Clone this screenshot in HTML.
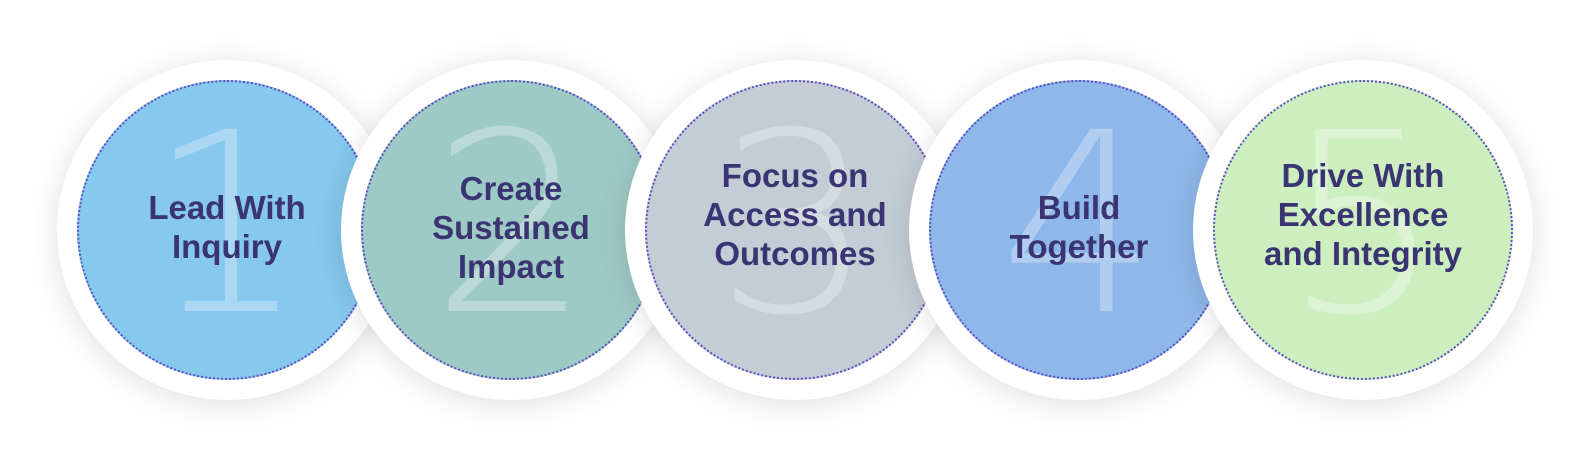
<!DOCTYPE html>
<html><head><meta charset="utf-8"><style>
body{margin:0;width:1595px;height:460px;background:#fff;position:relative;overflow:hidden;font-family:"Liberation Sans",sans-serif;}
.g{position:absolute;top:0;left:0;}
.o{position:absolute;width:340px;height:340px;border-radius:50%;background:#fff;box-shadow:0 4px 30px rgba(0,0,0,0.13);}
.i{position:absolute;width:300px;height:300px;border-radius:50%;border:2px dotted #5b4fc4;box-sizing:border-box;overflow:hidden;}
.n{position:absolute;left:0;width:100%;text-align:center;top:18px;font-family:"DejaVu Sans",sans-serif;font-weight:200;font-size:250px;line-height:250px;color:rgba(255,255,255,0.3);}
.t{position:absolute;left:0;width:100%;text-align:center;font-weight:bold;font-size:33px;line-height:39px;color:#3b3472;}
</style></head><body>

<div class="g"><div class="o" style="left:57px;top:60px"></div>
<div class="i" style="left:77px;top:80px;background:#86c8ee"><div class="n">1</div><div class="t" style="top:106px">Lead With<br>Inquiry</div></div></div>

<div class="g"><div class="o" style="left:341px;top:60px"></div>
<div class="i" style="left:361px;top:80px;background:#9ecac5"><div class="n">2</div><div class="t" style="top:87px">Create<br>Sustained<br>Impact</div></div></div>

<div class="g"><div class="o" style="left:625px;top:60px"></div>
<div class="i" style="left:645px;top:80px;background:#c4ccd6"><div class="n">3</div><div class="t" style="top:74px">Focus on<br>Access and<br>Outcomes</div></div></div>

<div class="g"><div class="o" style="left:909px;top:60px"></div>
<div class="i" style="left:929px;top:80px;background:#8fb8ea"><div class="n">4</div><div class="t" style="top:106px">Build<br>Together</div></div></div>

<div class="g"><div class="o" style="left:1193px;top:60px"></div>
<div class="i" style="left:1213px;top:80px;background:#cdefc0"><div class="n">5</div><div class="t" style="top:74px">Drive With<br>Excellence<br>and Integrity</div></div></div>

</body></html>
